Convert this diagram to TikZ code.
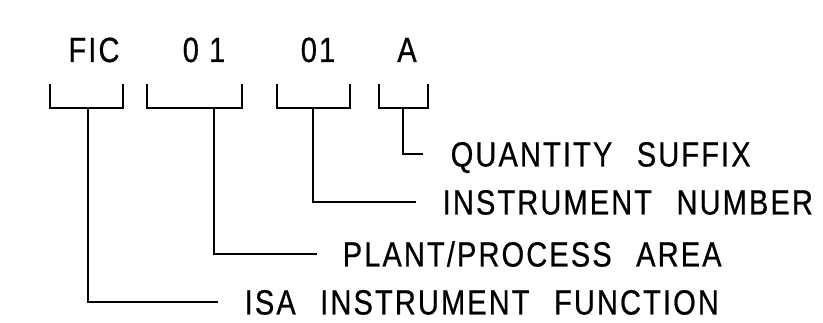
\documentclass[tikz,border=0pt]{standalone}
\usepackage{fontspec}
\setmainfont{Liberation Sans}[FakeStretch=0.83, LetterSpace=6, FakeBold=0.6]
\newcommand\wsp{\hspace{0.7em}}
\begin{document}
\begin{tikzpicture}[x=1pt,y=-1pt,line width=1.5pt,
  lbl/.style={inner sep=0pt,font=\fontsize{35}{35}\selectfont,text height=25pt,text depth=0pt},
  tag/.style={inner sep=0pt,font=\fontsize{35}{35}\selectfont,anchor=base},
  brk/.style={line width=1.5pt}]
\useasboundingbox (0,0) rectangle (823,323);
% tag texts
\node[tag] (fic) at (94,62) {FIC};
\node[tag] (pa) at (204,62) {0 1};
\node[tag] (num) at (318,62) {01};
\node[tag] (sfx) at (407,62) {A};
% brackets
\draw[brk] (50,84) -- (50,108) -- (123,108) -- (123,84);
\draw[brk] (147,84) -- (147,108) -- (242,108) -- (242,84);
\draw[brk] (277,84) -- (277,108) -- (350,108) -- (350,84);
\draw[brk] (379,84) -- (379,108) -- (428,108) -- (428,84);
\coordinate (s1) at (88,108);
\coordinate (s2) at (214,108);
\coordinate (s3) at (313,108);
\coordinate (s4) at (403,108);
% labels
\node[lbl,anchor=west] (lq) at (450,154) {QUANTITY\wsp SUFFIX};
\node[lbl,anchor=west] (ln) at (442,202) {INSTRUMENT\wsp NUMBER};
\node[lbl,anchor=west] (lp) at (342,254) {PLANT/PROCESS\wsp AREA};
\node[lbl,anchor=west] (li) at (244,302) {ISA\wsp INSTRUMENT\wsp FUNCTION};
% connectors
\draw (s4) |- ([xshift=-27pt]lq.west);
\draw (s3) |- ([xshift=-26pt]ln.west);
\draw (s2) |- ([xshift=-25pt]lp.west);
\draw (s1) |- ([xshift=-26pt]li.west);
\end{tikzpicture}
\end{document}
